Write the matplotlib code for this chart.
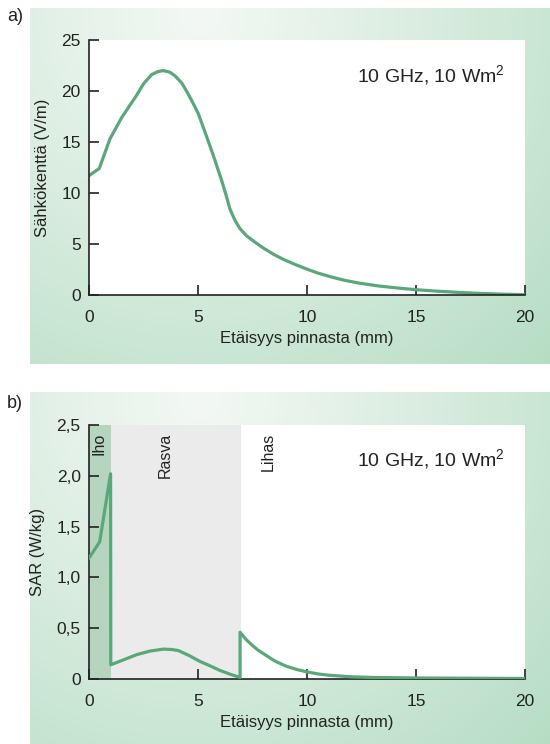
import matplotlib
matplotlib.use("Agg")

import numpy as np
import matplotlib.pyplot as plt

plt.rcParams["font.family"] = ["Liberation Sans", "DejaVu Sans"]
plt.rcParams["mathtext.fontset"] = "custom"
plt.rcParams["mathtext.rm"] = "Liberation Sans"

# panel a: electric field vs distance from the surface
dist_a = [0, 0.47, 0.96, 1.5, 2.19, 2.5, 2.87, 3.15, 3.41, 3.7, 3.94, 4.25, 4.5,
          4.75, 5.01, 5.35, 5.70, 6.09, 6.3, 6.47, 6.7, 6.93, 7.23, 7.6, 8.0, 8.5,
          8.91, 9.45, 9.98, 10.5, 11.06, 11.7, 12.43, 13.3, 14.27, 15.0, 16.0,
          17.0, 18.0, 19.0, 20.0]
field_a = [11.7, 12.4, 15.3, 17.4, 19.6, 20.7, 21.6, 21.9, 22.0, 21.85, 21.5, 20.8,
           19.9, 18.9, 17.8, 15.8, 13.7, 11.2, 9.7, 8.4, 7.3, 6.5, 5.8, 5.2, 4.6,
           3.95, 3.5, 3.0, 2.55, 2.15, 1.8, 1.45, 1.15, 0.88, 0.66, 0.52, 0.37,
           0.25, 0.15, 0.08, 0.03]

# panel b: SAR, three tissue layers
dist_skin = [0, 0.49, 0.99, 1.0]
sar_skin = [1.19, 1.35, 2.02, 0.14]
dist_fat = [1.0, 1.6, 2.19, 2.8, 3.41, 3.8, 4.1, 4.6, 5.09, 5.5, 6.0, 6.5, 6.93, 6.93]
sar_fat = [0.14, 0.19, 0.24, 0.275, 0.294, 0.29, 0.28, 0.23, 0.173, 0.135, 0.085,
           0.045, 0.016, 0.46]
dist_muscle = [6.93, 7.2, 7.5, 7.75, 8.0, 8.5, 9.0, 9.5, 10.0, 10.5, 11.0, 12.0,
               13.0, 15.0, 20.0]
sar_muscle = [0.46, 0.39, 0.33, 0.285, 0.25, 0.18, 0.13, 0.095, 0.07, 0.05, 0.037,
              0.022, 0.015, 0.01, 0.005]

layers = [("Iho", 0, 1.0, 0.47), ("Rasva", 1.0, 6.95, 3.49), ("Lihas", 6.95, 20, 8.2)]
layer_colors = ["#b5d5be", "#ebebeb", "white"]

sar_ticks = [0, 0.5, 1.0, 1.5, 2.0, 2.5]
sar_ticklabels = ["0", "0,5", "1,0", "1,5", "2,0", "2,5"]

GREEN = "#5aa77a"
INK = "#222222"
W, H = 550, 744

fig = plt.figure(figsize=(W / 100, H / 100), dpi=100)


def gradient_panel(top, bottom):
    # radial background, pale near top-left-centre, greener outwards
    ax = fig.add_axes([30 / W, 1 - bottom / H, (W - 30) / W, (bottom - top) / H])
    ax.set_axis_off()
    xs = np.linspace(30, W, 260)
    ys = np.linspace(top, bottom, 170)
    X, Y = np.meshgrid(xs, ys)
    r = np.hypot(X - 200, Y - top - 5) / 495
    r = np.clip(r, 0, 1) ** 1.1
    c0 = np.array([243, 248, 244]) / 255
    c1 = np.array([182, 221, 196]) / 255
    img = c0 + (c1 - c0) * r[..., None]
    ax.imshow(img, aspect="auto", extent=[0, 1, 0, 1], origin="upper")


def style_axes(ax):
    ax.spines["top"].set_visible(False)
    ax.spines["right"].set_visible(False)
    for s in ("left", "bottom"):
        ax.spines[s].set_linewidth(1.2)
        ax.spines[s].set_color(INK)
    ax.tick_params(direction="in", length=7, width=1.2, color=INK,
                   labelsize=12.5, labelcolor=INK)
    ax.tick_params(axis="x", pad=11)
    ax.tick_params(axis="y", pad=6)
    ax.set_xlim(0, 20)
    ax.set_xticks([0, 5, 10, 15, 20])
    ax.set_xlabel("Etäisyys pinnasta (mm)", fontsize=12, color=INK, labelpad=4)


gradient_panel(8, 364)
gradient_panel(392, 744)

# a)
ax1 = fig.add_axes([89 / W, 1 - 295 / H, 436 / W, 255 / H])
ax1.set_facecolor("white")
ax1.plot(dist_a, field_a, color=GREEN, lw=2.3, solid_joinstyle="round")
ax1.set_ylim(0, 25)
ax1.set_yticks([0, 5, 10, 15, 20, 25])
style_axes(ax1)
ax1.set_ylabel("Sähkökenttä (V/m)", fontsize=12, color=INK, labelpad=8)
ax1.text(0.954, 0.831, "10 GHz, 10 Wm$^2$", transform=ax1.transAxes, ha="right",
         va="baseline", fontsize=14, color=INK)

# b)
ax2 = fig.add_axes([89 / W, 1 - 679 / H, 436 / W, 254 / H])
ax2.set_facecolor("white")
for (name, x0, x1, xt), col in zip(layers, layer_colors):
    ax2.axvspan(x0, x1, color=col, lw=0, zorder=0)
    ax2.text(xt, 2.42, name, rotation=90, ha="center", va="top", fontsize=11.5,
             color=INK)
ax2.plot(dist_skin + dist_fat[1:] + dist_muscle[1:],
         sar_skin + sar_fat[1:] + sar_muscle[1:],
         color=GREEN, lw=2.3, solid_joinstyle="round", zorder=3)
ax2.set_ylim(0, 2.5)
ax2.set_yticks(sar_ticks)
ax2.set_yticklabels(sar_ticklabels)
style_axes(ax2)
ax2.set_ylabel("SAR (W/kg)", fontsize=12, color=INK, labelpad=8)
ax2.text(0.954, 0.835, "10 GHz, 10 Wm$^2$", transform=ax2.transAxes, ha="right",
         va="baseline", fontsize=14, color=INK)

fig.text(7 / W, 1 - 21 / H, "a)", fontsize=13, color=INK, va="baseline")
fig.text(7 / W, 1 - 408 / H, "b)", fontsize=13, color=INK, va="baseline")

fig.savefig("out.png", dpi=100)
